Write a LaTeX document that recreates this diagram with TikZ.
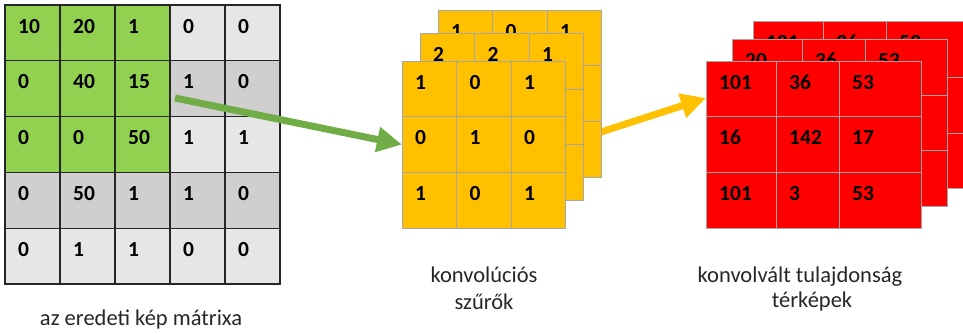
\documentclass[tikz,border=0pt]{standalone}
\usepackage{fontspec}
\setmainfont{Carlito}
\usetikzlibrary{arrows.meta,calc}
\definecolor{cellgreen}{HTML}{92D050}
\definecolor{celllight}{HTML}{E7E6E6}
\definecolor{celldark}{HTML}{D0CECE}
\definecolor{filteryellow}{HTML}{FFC000}
\definecolor{mapred}{HTML}{FF0000}
\definecolor{gridgray}{HTML}{A6A6A6}
\definecolor{arrowgreen}{HTML}{70AD47}
\pgfdeclarelayer{behind}
\pgfsetlayers{behind,main}
\begin{document}
\begin{tikzpicture}[x=1pt,y=-1pt,
  cell/.style={draw, rectangle, anchor=north west, inner sep=0pt, outer sep=0pt},
  matcell/.style={cell, draw=black!85, line width=1.3pt, minimum width=55pt, minimum height=55.8pt},
  ycell/.style={cell, draw=gridgray, line width=1pt, fill=filteryellow, minimum width=54.5pt, minimum height=55.7pt},
  rcell/.style={cell, draw=gridgray, line width=1pt, fill=mapred, minimum height=55.7pt},
  num/.style={anchor=base west, inner sep=0pt, font=\fontsize{21.5}{25}\selectfont\bfseries},
  caption/.style={anchor=base, inner sep=0pt, font=\fontsize{22.5}{26}\selectfont, text=black!85},
  fatarrow/.style={line width=7pt, -{Triangle[length=25pt,width=24pt]}}
]
\clip (0,0) rectangle (963,333);

% input image matrix
\foreach \vals [count=\r] in {
  {10/cellgreen,20/cellgreen,1/cellgreen,0/celllight,0/celllight},
  {0/cellgreen,40/cellgreen,15/cellgreen,1/celldark,0/celldark},
  {0/cellgreen,0/cellgreen,50/cellgreen,1/celllight,1/celllight},
  {0/celldark,50/celldark,1/celldark,1/celldark,0/celldark},
  {0/celllight,1/celllight,1/celllight,0/celllight,0/celllight}}
  \foreach \v/\f [count=\c] in \vals {
    \node[matcell, fill=\f] (m-\r-\c) at ({5+55*(\c-1)},{5+55.8*(\r-1)}) {};
    \node[num] (m-\r-\c-t) at ($(m-\r-\c.north west)+(13,28)$) {\v};
  }

% stacked convolution filters (back layers first)
\foreach \nm/\x/\y/\vals in {yb/438/10/{1,0,1}, ym/420/33.3/{2,2,1}} {
  \foreach \r in {1,2,3}
    \foreach \c in {1,2,3}
      \node[ycell] (\nm-\r-\c) at ({\x+54.5*(\c-1)},{\y+55.7*(\r-1)}) {};
  \foreach \v [count=\c] in \vals
    \node[num] (\nm-t\c) at ($(\nm-1-\c.north west)+(13,28)$) {\v};
}
\foreach \vals [count=\r] in {{1,0,1},{0,1,0},{1,0,1}}
  \foreach \v [count=\c] in \vals {
    \node[ycell] (yf-\r-\c) at ({402+54.5*(\c-1)},{61+55.7*(\r-1)}) {};
    \node[num] (yf-\r-\c-t) at ($(yf-\r-\c.north west)+(13,28)$) {\v};
  }

% stacked feature maps (back layers first)
\foreach \nm/\x/\y/\vals in {rb/753/21.7/{101,36,53}, rm/732/39.3/{20,36,53}} {
  \foreach \r in {1,2,3}
    \foreach \c/\dx/\w in {1/0/70,2/70/63,3/133/82}
      \node[rcell, minimum width=\w pt] (\nm-\r-\c) at ({\x+\dx},{\y+55.7*(\r-1)}) {};
  \foreach \v [count=\c] in \vals
    \node[num] (\nm-t\c) at ($(\nm-1-\c.north west)+(13,28)$) {\v};
}
\foreach \vals [count=\r] in {{101/0/70,36/70/63,53/133/82},{16/0/70,142/70/63,17/133/82},{101/0/70,3/70/63,53/133/82}}
  \foreach \v/\dx/\w [count=\c] in \vals {
    \node[rcell, minimum width=\w pt] (rf-\r-\c) at ({706+\dx},{61+55.7*(\r-1)}) {};
    \node[num] (rf-\r-\c-t) at ($(rf-\r-\c.north west)+(13,28)$) {\v};
  }

% arrows
\coordinate (gstart) at (175,98);
\draw[fatarrow, arrowgreen] (gstart) -- (yf-2-1.west);
\coordinate (ystart) at (567,143);
\coordinate (rin) at ($(rf-1-1.north west)+(0,37)$);
\begin{pgfonlayer}{behind}
  \draw[fatarrow, filteryellow] (ystart) -- (rin);
\end{pgfonlayer}

% captions
\node[caption] (cap1) at (141,325) {az eredeti kép mátrixa};
\node[caption] (cap2a) at (484,282) {konvolúciós};
\node[caption] (cap2b) at (484,309) {szűrők};
\node[caption] (cap3a) at (800,282) {konvolvált tulajdonság};
\node[caption] (cap3b) at (812,307) {térképek};
\end{tikzpicture}
\end{document}
